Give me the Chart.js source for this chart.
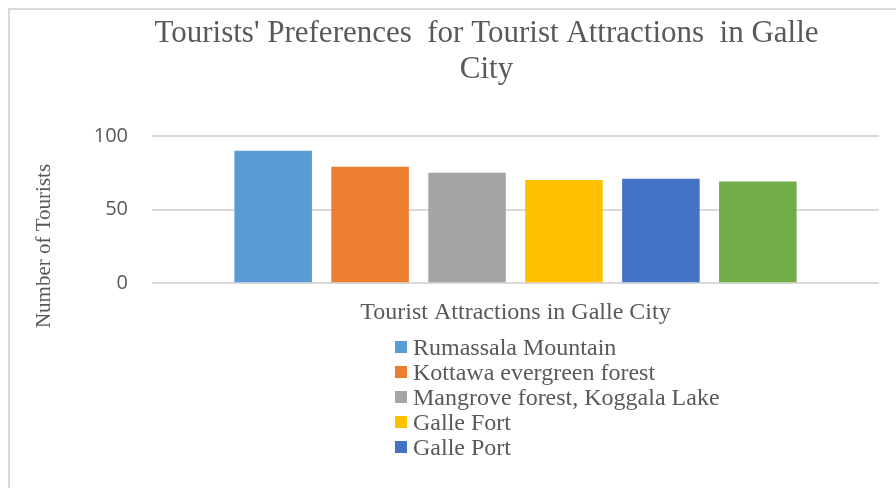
<!DOCTYPE html>
<html>
<head>
<meta charset="utf-8">
<script src="https://cdn.jsdelivr.net/npm/chart.js@4.4.1/dist/chart.umd.min.js"></script>
<style>
    html, body { margin: 0; padding: 0; background: #fff; }
    #wrap { position: relative; width: 896px; height: 488px; overflow: hidden; }
    #frame {
        position: absolute; left: 8px; top: 8px; width: 1000px; height: 600px;
        border-left: 2px solid #d9d9d9; border-top: 2px solid #d9d9d9;
    }
    #chart { position: absolute; left: 0; top: 0; }
    #legend {
        position: absolute; left: 395px; top: 334.5px; margin: 0; padding: 0;
        list-style: none; font-family: 'Liberation Serif', serif; font-size: 24px; color: #595959;
    }
    #legend li { display: flex; align-items: center; height: 25px; line-height: 25px; white-space: nowrap; }
    #legend span.box { display: inline-block; width: 12px; height: 12px; margin-right: 6px; }
</style>
</head>
<body>
<div id="wrap">
    <div id="frame"></div>
    <canvas id="chart" width="896" height="488"></canvas>
    <ul id="legend"></ul>
</div>
<script>
const attractions = [
    'Rumassala Mountain',
    'Kottawa evergreen forest',
    'Mangrove forest, Koggala Lake',
    'Galle Fort',
    'Galle Port',
    'Other'
];
const tourists = [90, 79, 75, 70, 71, 69];
const barColors = ['#5b9bd5', '#ed7d31', '#a5a5a5', '#ffc000', '#4472c4', '#70ad47'];
const yTicks = [0, 50, 100];
const legendShown = 5; // the sixth entry is cut off in the original

const textColor = '#595959';

const datasets = attractions.map((name, i) => ({
    label: name,
    data: [tourists[i]],
    backgroundColor: barColors[i],
    categoryPercentage: 0.8,
    barPercentage: 0.8
}));

// legend as a plain list, one entry per line
const htmlLegend = {
    id: 'htmlLegend',
    afterUpdate(chart) {
        const ul = document.getElementById('legend');
        ul.innerHTML = '';
        chart.data.datasets.slice(0, legendShown).forEach(ds => {
            const li = document.createElement('li');
            const box = document.createElement('span');
            box.className = 'box';
            box.style.background = ds.backgroundColor;
            li.appendChild(box);
            li.appendChild(document.createTextNode(ds.label));
            ul.appendChild(li);
        });
    }
};

// y title sits lower than the plot centre in the original
const yTitle = {
    id: 'yTitle',
    afterDraw(chart) {
        const ctx = chart.ctx;
        ctx.save();
        ctx.translate(44, 246);
        ctx.rotate(-Math.PI / 2);
        ctx.font = '21px "Liberation Serif"';
        ctx.fillStyle = textColor;
        ctx.textAlign = 'center';
        ctx.textBaseline = 'middle';
        ctx.fillText('Number of Tourists', 0, 0);
        ctx.restore();
    }
};

new Chart(document.getElementById('chart').getContext('2d'), {
    type: 'bar',
    data: { labels: [''], datasets },
    options: {
        responsive: false,
        animation: false,
        layout: { padding: { left: 94, right: 17, top: 0, bottom: 161 } },
        plugins: {
            legend: { display: false },
            tooltip: { enabled: false },
            title: {
                display: true,
                text: ["Tourists' Preferences  for Tourist Attractions  in Galle", 'City'],
                color: textColor,
                font: { family: 'Liberation Serif', size: 31, weight: 'normal', lineHeight: 1.16 },
                padding: { top: 16, bottom: 48 }
            }
        },
        scales: {
            x: {
                grid: { display: false, drawTicks: false },
                border: { display: false },
                ticks: { display: false },
                title: {
                    display: true,
                    text: 'Tourist Attractions in Galle City',
                    color: textColor,
                    font: { family: 'Liberation Serif', size: 24 },
                    padding: { top: 15, bottom: 0 }
                }
            },
            y: {
                min: 0,
                max: 100,
                afterBuildTicks: scale => { scale.ticks = yTicks.map(v => ({ value: v })); },
                afterFit: scale => { scale.width = 58; },
                grid: { color: '#d9d9d9', lineWidth: 2, drawTicks: false },
                border: { display: false },
                ticks: {
                    color: textColor,
                    padding: 24,
                    font: { family: 'Open Sans', size: 20 }
                }
            }
        }
    },
    plugins: [htmlLegend, yTitle]
});
</script>
</body>
</html>
